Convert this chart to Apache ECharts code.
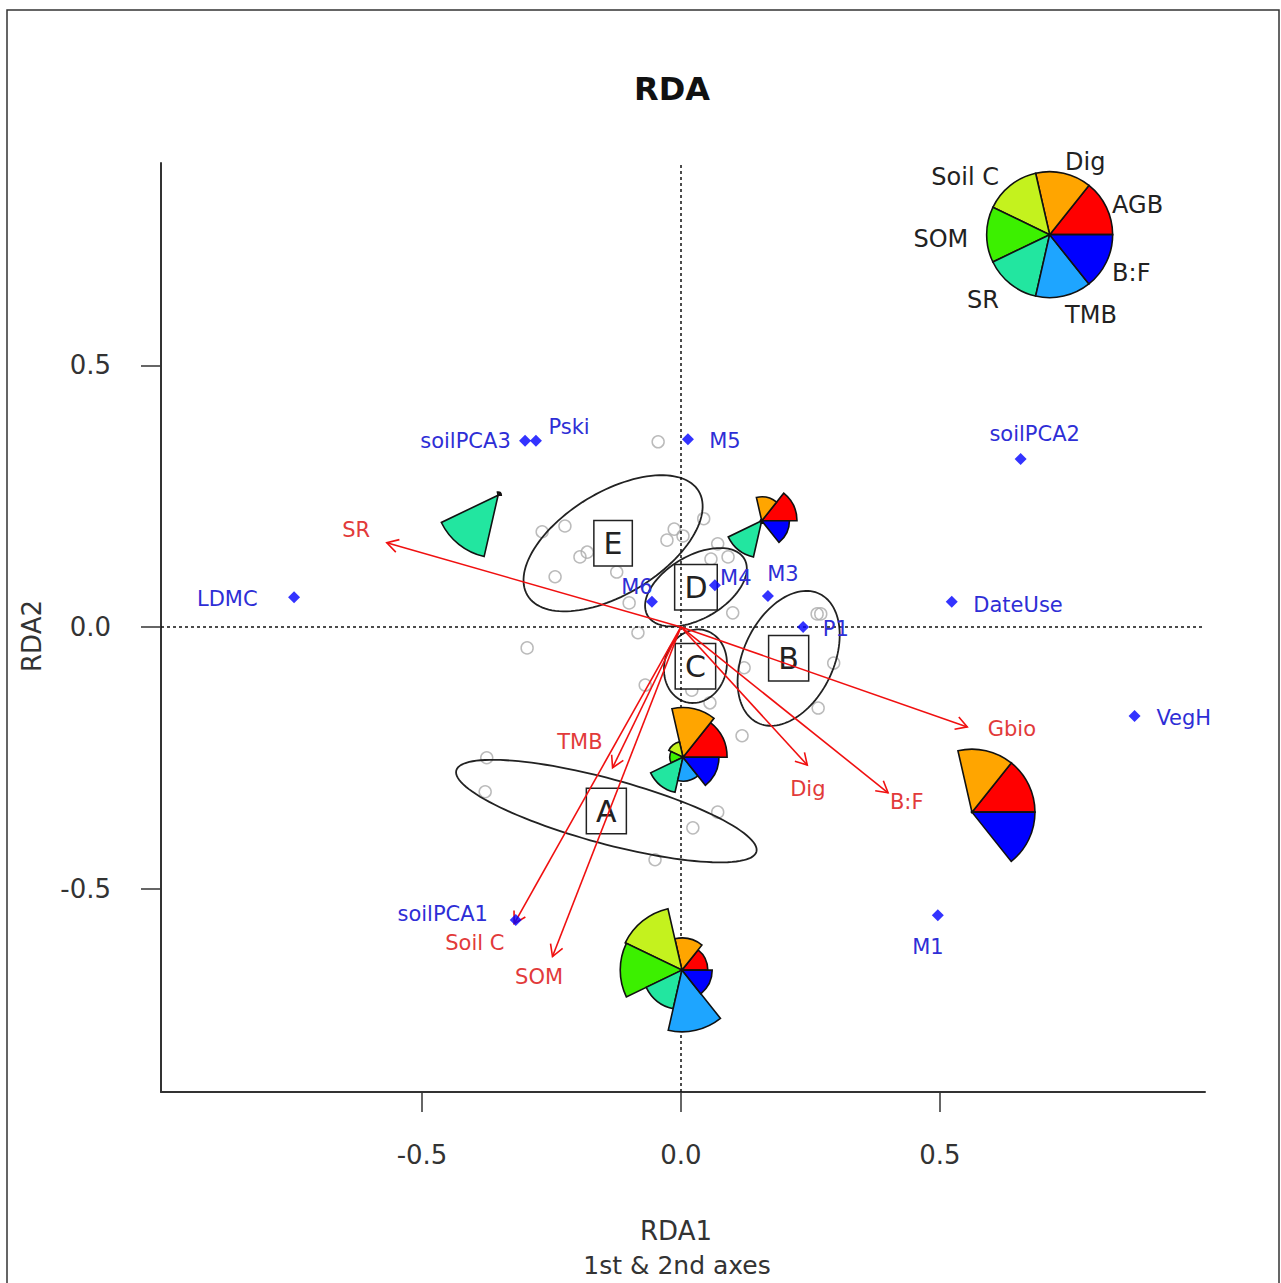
<!DOCTYPE html>
<html><head><meta charset="utf-8">
<script src="https://cdn.jsdelivr.net/npm/echarts@6/dist/echarts.min.js"></script>
<style>html,body{margin:0;padding:0;background:#fff}#c{width:1281px;height:1283px}</style>
</head><body><div id="c"></div>
<script>
const FONT = '"DejaVu Sans", Verdana, sans-serif';

// ---- site scores (grey open circles)
const siteX = [-0.044,-0.268,-0.224,-0.195,-0.181,-0.243,-0.124,-0.100,-0.083,-0.297,-0.027,-0.013,0.004,0.044,0.071,0.058,0.091,0.100,0.263,0.270,-0.069,0.021,0.056,0.122,0.295,0.265,0.118,0.071,0.023,-0.375,-0.378,-0.050];
const siteY = [0.354,0.182,0.193,0.134,0.143,0.096,0.105,0.046,-0.011,-0.040,0.166,0.187,0.174,0.207,0.159,0.130,0.134,0.027,0.025,0.025,-0.111,-0.121,-0.145,-0.078,-0.069,-0.155,-0.208,-0.354,-0.384,-0.250,-0.315,-0.445];

// ---- supplementary variables (blue diamonds)
const ptNames = ['soilPCA3','Pski','M5','soilPCA2','LDMC','M6','M4','M3','P1','DateUse','VegH','M1','soilPCA1'];
const ptX = [-0.301,-0.280,0.0135,0.656,-0.747,-0.056,0.0656,0.168,0.236,0.523,0.876,0.496,-0.319];
const ptY = [0.356,0.356,0.359,0.321,0.057,0.048,0.080,0.059,0.000,0.048,-0.170,-0.551,-0.560];
const ptLabelX = [-0.416,-0.216,0.085,0.683,-0.876,-0.085,0.106,0.197,0.299,0.651,0.971,0.477,-0.460];
const ptLabelY = [0.356,0.382,0.356,0.369,0.054,0.076,0.094,0.101,-0.004,0.042,-0.174,-0.612,-0.549];

// ---- response arrows (red)
const arrowNames = ['SR','Gbio','Dig','B:F','TMB','Soil C','SOM'];
const arrowX = [-0.568,0.553,0.244,0.400,-0.132,-0.322,-0.248];
const arrowY = [0.161,-0.191,-0.264,-0.317,-0.269,-0.567,-0.630];
const arrowLabelX = [-0.627,0.639,0.245,0.436,-0.195,-0.398,-0.274];
const arrowLabelY = [0.185,-0.195,-0.310,-0.335,-0.220,-0.604,-0.669];

// ---- groups (ellipses + boxed labels)
const groupNames = ['A','B','C','D','E'];
const groupX = [-0.144,0.208,0.028,0.029,-0.131];
const groupY = [-0.352,-0.060,-0.075,0.076,0.160];
const groupSemiMajor = [0.300,0.137,0.071,0.108,0.193];
const groupSemiMinor = [0.062,0.087,0.060,0.060,0.098];
const groupAngle = [-15,64,75,30,31];

// ---- segment glyphs
const glyphVars = ['AGB','Dig','Soil C','SOM','SR','TMB','B:F'];
const glyphX = [-0.353,0.156,0.004,0.562,0.002];
const glyphY = [0.252,0.203,-0.249,-0.354,-0.656];
const gAGB  = [0.05,0.56,0.70,1.00,0.41];
const gDig  = [0.05,0.38,0.79,1.00,0.51];
const gSoilC= [0.00,0.02,0.25,0.00,1.00];
const gSOM  = [0.00,0.02,0.21,0.00,0.98];
const gSR   = [1.00,0.59,0.57,0.00,0.63];
const gTMB  = [0.00,0.04,0.38,0.00,0.98];
const gBF   = [0.00,0.44,0.57,1.00,0.48];
const keyX = 0.712, keyY = 0.750;

const glyphColors = ['#FF0000','#FFA500','#C4F21E','#3CF000','#22E6A0','#1EA5FF','#0000FF'];
const R = 63;

const chart = echarts.init(document.getElementById('c'), null, {renderer:'svg'});

function glyphShapes(c, vals){
  const ch = [];
  for (let k=0;k<7;k++){
    const v = vals[k];
    if (!(v>0)) continue;
    const a0 = k*2*Math.PI/7, a1=(k+1)*2*Math.PI/7;
    ch.push({type:'sector', shape:{cx:c[0],cy:c[1],r0:0,r:v*R,startAngle:-a1,endAngle:-a0,clockwise:true},
      style:{fill:glyphColors[k],stroke:'#111',lineWidth:1.6}});
  }
  return ch;
}

const glyphData = glyphX.map((x,i)=>[x,glyphY[i],gAGB[i],gDig[i],gSoilC[i],gSOM[i],gSR[i],gTMB[i],gBF[i]]);

function textSeries(xs, ys, names, color, size, z){
  return {type:'custom', z:z||5, silent:true,
    data: xs.map((x,i)=>[x,ys[i]]), encode:{x:0,y:1},
    renderItem:(p,api)=>{
      const c = api.coord([api.value(0),api.value(1)]);
      return {type:'text', x:c[0], y:c[1], style:{text:names[p.dataIndex], fill:color,
        font: size+'px '+FONT, align:'center', verticalAlign:'middle'}};
    }};
}

const axisCommon = {
  type:'value',
  axisLine:{show:true,onZero:false,lineStyle:{color:'#333',width:2}},
  axisTick:{show:true,inside:false,length:20,customValues:[-0.5,0,0.5],lineStyle:{color:'#333',width:1.5}},
  axisLabel:{customValues:[-0.5,0,0.5],formatter:v=>v.toFixed(1),color:'#333',fontSize:26,fontFamily:FONT,margin:50},
  splitLine:{show:false}
};

const option = {
  backgroundColor:'#fff',
  animation:false,
  grid:{left:161,right:76,top:163,bottom:191,containLabel:false,outerBoundsMode:'none'},
  xAxis: Object.assign({}, axisCommon, {min:-1.004,max:1.012}),
  yAxis: Object.assign({}, axisCommon, {min:-0.889,max:0.887}),
  graphic:[
    {type:'rect',shape:{x:7,y:10,width:1272,height:1300},style:{fill:'none',stroke:'#333',lineWidth:1.5},silent:true},
    {type:'text',x:672,y:89,style:{text:'RDA',font:'bold 32px '+FONT,fill:'#111',align:'center',verticalAlign:'middle'}},
    {type:'text',x:676,y:1231,style:{text:'RDA1',font:'26px '+FONT,fill:'#333',align:'center',verticalAlign:'middle'}},
    {type:'text',x:677,y:1265,style:{text:'1st & 2nd axes',font:'25px '+FONT,fill:'#333',align:'center',verticalAlign:'middle'}},
    {type:'text',x:32,y:636,rotation:Math.PI/2,style:{text:'RDA2',font:'26px '+FONT,fill:'#333',align:'center',verticalAlign:'middle'}}
  ],
  series:[
    {type:'scatter', z:2, silent:true, symbol:'circle', symbolSize:12,
      itemStyle:{color:'rgba(0,0,0,0)',borderColor:'#aaa',borderWidth:1.5},
      data: siteX.map((x,i)=>[x,siteY[i]]),
      markLine:{silent:true,symbol:['none','none'],label:{show:false},
        lineStyle:{type:[3,3],color:'#111',width:1.5},
        data:[{xAxis:0},{yAxis:0}]}
    },
    {type:'custom', z:3, silent:true,
      data: groupX.map((x,i)=>[x,groupY[i],groupSemiMajor[i],groupSemiMinor[i],groupAngle[i]]),
      encode:{x:0,y:1},
      renderItem:(p,api)=>{
        const cx=api.value(0), cy=api.value(1), a=api.value(2), b=api.value(3), th=api.value(4)*Math.PI/180;
        const pts=[];
        for(let i=0;i<120;i++){
          const t=i/120*2*Math.PI, ex=a*Math.cos(t), ey=b*Math.sin(t);
          pts.push(api.coord([cx+ex*Math.cos(th)-ey*Math.sin(th), cy+ex*Math.sin(th)+ey*Math.cos(th)]));
        }
        return {type:'polygon',shape:{points:pts},style:{fill:'none',stroke:'#222',lineWidth:1.8}};
      }
    },
    {type:'custom', z:4, silent:true,
      data: groupX.map((x,i)=>[x,groupY[i]]), encode:{x:0,y:1},
      renderItem:(p,api)=>{
        const c = api.coord([api.value(0),api.value(1)]);
        return {type:'text', x:c[0], y:c[1], style:{text:groupNames[p.dataIndex], fill:'#222',
          font:'30px '+FONT, align:'center', verticalAlign:'middle', lineHeight:31,
          backgroundColor:'#fff', borderColor:'#222', borderWidth:1.5, padding:[7,9,6,9]}};
      }
    },
    {type:'custom', z:5, silent:true,
      data: arrowX.map((x,i)=>[x,arrowY[i]]), encode:{x:0,y:1},
      renderItem:(p,api)=>{
        const o=api.coord([0,0]), t=api.coord([api.value(0),api.value(1)]);
        const ang=Math.atan2(t[1]-o[1], t[0]-o[0]);
        const L=13, w=Math.PI/6;
        const p1=[t[0]-L*Math.cos(ang-w), t[1]-L*Math.sin(ang-w)];
        const p2=[t[0]-L*Math.cos(ang+w), t[1]-L*Math.sin(ang+w)];
        return {type:'group',children:[
          {type:'line',shape:{x1:o[0],y1:o[1],x2:t[0],y2:t[1]},style:{stroke:'#F01010',lineWidth:1.6}},
          {type:'polyline',shape:{points:[p1,t,p2]},style:{stroke:'#F01010',lineWidth:1.6,fill:null}}
        ]};
      }
    },
    textSeries(arrowLabelX, arrowLabelY, arrowNames, '#E23A3A', 21, 6),
    {type:'scatter', z:6, silent:true, symbol:'diamond', symbolSize:12,
      itemStyle:{color:'#0000FF'}, data: ptX.map((x,i)=>[x,ptY[i]])},
    textSeries(ptLabelX, ptLabelY, ptNames, '#2E2ED6', 21, 6),
    {type:'custom', z:7, silent:true, data: glyphData, encode:{x:0,y:1},
      renderItem:(p,api)=>{
        const c = api.coord([api.value(0),api.value(1)]);
        const vals=[]; for(let k=0;k<7;k++) vals.push(api.value(2+k));
        return {type:'group',children:glyphShapes(c, vals)};
      }
    },
    {type:'custom', z:7, silent:true, data:[[keyX,keyY]], encode:{x:0,y:1},
      renderItem:(p,api)=>{
        const c = api.coord([api.value(0),api.value(1)]);
        const ch = glyphShapes(c,[1,1,1,1,1,1,1]);
        for(let k=0;k<7;k++){
          const m=(k+0.5)*2*Math.PI/7, cs=Math.cos(m), sn=Math.sin(m);
          const rx = cs<0 ? 1.1*R+12 : 1.1*R;
          const x=c[0]+rx*cs, y=c[1]-1.1*R*sn+4-9*sn;
          ch.push({type:'text',x:x,y:y,style:{text:glyphVars[k],fill:'#222',font:'24px '+FONT,
            align: cs>0.01?'left':(cs<-0.01?'right':'center'),verticalAlign:'middle'}});
        }
        return {type:'group',children:ch};
      }
    }
  ]
};
chart.setOption(option);
</script>
</body></html>
